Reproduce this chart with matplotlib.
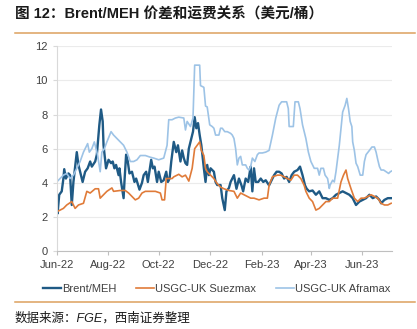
import numpy as np
import matplotlib
matplotlib.use("Agg")
import matplotlib.pyplot as plt
import matplotlib.dates as mdates
from matplotlib.lines import Line2D

plt.rcParams["font.family"] = ["Liberation Sans", "Noto Sans CJK SC", "DejaVu Sans"]

START = np.datetime64("2022-06-01")

# days since 2022-06-01 and value (USD/bbl)
brent_day = [0, 1, 3, 6, 8, 9, 11, 14, 16, 18, 20, 24, 26, 28, 31, 34, 37, 40, 42, 46,
             48, 51, 53, 55, 56, 59, 62, 65, 67, 69, 71, 74, 75, 77, 80, 81, 83, 85, 87, 90,
             93, 95, 99, 102, 104, 107, 109, 113, 115, 117, 120, 122, 125, 128, 131, 133, 135, 137, 140, 143,
             145, 148, 150, 152, 154, 156, 158, 161, 163, 165, 167, 169, 171, 173, 176, 178, 180, 182, 184, 188,
             190, 192, 196, 198, 201, 203, 206, 208, 212, 215, 218, 221, 223, 226, 229, 232, 234, 236, 238, 241,
             244, 247, 250, 254, 256, 260, 263, 266, 269, 272, 275, 278, 281, 284, 288, 291, 294, 297, 299, 302,
             306, 310, 314, 318, 322, 326, 330, 334, 338, 342, 346, 350, 354, 358, 362, 366, 370, 374, 378, 382,
             386, 388, 392, 396, 400]
brent_val = [2.9, 2.2, 3.3, 3.5, 4.25, 4.8, 4.25, 4.55, 4.45, 2.7, 4.05, 5.8, 5.05, 4.65, 4.05, 4.65, 4.85, 5.25, 4.95, 5.25,
             5.65, 7.4, 8.3, 7.6, 6.2, 4.85, 5.35, 5.15, 5.25, 4.85, 5.05, 4.45, 4.85, 4.05, 3.1, 4.05, 5.65, 5.25, 4.55, 4.65,
             4.05, 4.25, 3.6, 4.0, 4.45, 4.65, 4.05, 5.35, 4.85, 4.95, 4.05, 4.65, 4.05, 4.15, 4.65, 4.05, 4.25, 5.25, 6.4, 5.8,
             6.2, 5.25, 5.9, 5.45, 5.15, 5.05, 6.0, 6.6, 7.0, 7.85, 7.2, 7.5, 6.8, 6.2, 4.85, 4.05, 5.05, 4.45, 4.85, 4.65,
             4.05, 3.87, 3.87, 3.1, 2.4, 3.5, 3.7, 4.05, 4.45, 3.65, 4.25, 3.85, 3.5, 4.25, 4.05, 4.95, 3.5, 4.85, 4.05, 4.05,
             4.25, 4.05, 4.15, 3.85, 4.05, 4.45, 4.65, 4.65, 4.55, 4.25, 4.35, 4.05, 4.45, 4.65, 4.75, 4.95, 4.45, 3.85, 3.65, 3.5,
             3.55, 3.3, 3.5, 3.1, 3.1, 3.0, 3.1, 3.3, 3.4, 3.5, 3.4, 3.3, 3.1, 2.7, 2.9, 3.0, 3.1, 3.3, 3.1, 3.2,
             3.0, 2.8, 3.0, 3.1, 3.1]

suez_day = [0, 8, 12, 18, 22, 26, 32, 36, 40, 46, 50, 52, 56, 60, 66, 68, 76, 82, 86, 90,
            94, 98, 102, 106, 112, 118, 124, 126, 129, 131, 134, 138, 140, 146, 150, 154, 158, 162, 165, 168,
            171, 173, 176, 178, 180, 184, 188, 192, 196, 200, 206, 212, 216, 220, 224, 228, 232, 236, 242, 248,
            252, 254, 258, 264, 268, 272, 276, 280, 284, 288, 292, 296, 298, 302, 306, 310, 314, 318, 322, 326,
            330, 336, 340, 343, 346, 348, 352, 356, 360, 364, 368, 372, 376, 380, 384, 388, 392, 396, 400]
suez_val = [2.3, 2.5, 2.7, 2.9, 2.5, 2.7, 2.8, 3.5, 3.4, 3.65, 3.65, 3.1, 3.3, 3.5, 3.7, 3.5, 3.55, 3.55, 3.4, 3.2,
            3.0, 3.1, 3.4, 3.5, 3.5, 3.5, 3.4, 3.0, 3.0, 4.25, 4.25, 4.25, 4.35, 4.5, 4.35, 4.45, 4.1, 4.85, 6.0, 6.2,
            6.4, 5.9, 5.6, 4.85, 4.65, 4.45, 4.25, 3.95, 3.75, 3.65, 3.55, 3.5, 3.1, 3.4, 3.3, 3.2, 3.1, 3.1, 3.0, 3.1,
            3.1, 3.85, 4.35, 4.45, 4.45, 4.35, 4.25, 4.15, 4.45, 4.45, 4.25, 3.85, 3.5, 3.1, 2.9, 2.4, 2.5, 2.7, 2.9, 2.9,
            3.1, 3.1, 4.05, 4.45, 4.75, 4.25, 3.65, 3.1, 2.9, 3.1, 3.1, 3.2, 3.3, 3.2, 3.1, 2.8, 2.7, 2.7, 2.8]

afra_day = [0, 4, 8, 12, 16, 20, 24, 28, 32, 37, 39, 42, 45, 47, 49, 52, 54, 57, 60, 65,
            68, 72, 76, 80, 84, 88, 92, 96, 100, 106, 112, 116, 122, 128, 132, 134, 138, 142, 146, 152,
            154, 156, 160, 163, 165, 171, 172, 176, 178, 180, 183, 186, 188, 190, 194, 196, 198, 201, 204, 208,
            210, 212, 214, 216, 218, 220, 222, 226, 228, 230, 232, 234, 237, 240, 242, 246, 250, 254, 258, 262,
            266, 269, 275, 277, 278, 283, 285, 289, 291, 294, 298, 301, 304, 308, 312, 314, 316, 319, 321, 324,
            326, 327, 330, 332, 334, 338, 340, 342, 345, 347, 349, 351, 353, 354, 356, 358, 360, 363, 366, 368,
            370, 374, 377, 380, 382, 384, 386, 388, 391, 394, 397, 399, 401]
afra_val = [4.05, 4.25, 4.45, 4.55, 4.25, 4.45, 4.85, 5.25, 5.8, 6.3, 5.8, 6.0, 6.4, 6.0, 5.6, 4.65, 5.8, 6.0, 6.4, 7.0,
            6.8, 6.6, 6.4, 6.2, 5.8, 5.25, 5.25, 5.35, 5.6, 5.6, 5.5, 5.45, 5.35, 5.45, 6.2, 7.7, 7.7, 7.8, 7.85, 7.8,
            7.1, 7.6, 7.3, 7.8, 10.9, 10.9, 9.7, 9.6, 8.5, 8.45, 7.4, 7.3, 7.2, 6.8, 6.8, 7.2, 7.2, 7.0, 7.0, 6.9,
            6.8, 6.6, 6.0, 5.05, 5.45, 5.55, 5.05, 5.05, 4.85, 4.75, 4.95, 5.45, 5.25, 5.65, 5.75, 5.75, 5.8, 5.9, 6.8, 7.8,
            8.55, 8.75, 8.75, 8.35, 7.3, 7.3, 8.75, 8.75, 8.35, 7.4, 6.6, 5.8, 5.25, 4.85, 4.85, 4.45, 4.85, 4.85, 4.45, 4.25,
            3.67, 3.87, 4.15, 4.05, 4.65, 6.2, 7.2, 8.15, 8.55, 8.95, 8.35, 7.6, 7.3, 6.4, 5.9, 5.15, 4.95, 4.45, 4.45, 5.25,
            5.65, 5.9, 6.1, 6.1, 5.8, 5.35, 4.95, 4.75, 4.75, 4.65, 4.55, 4.65, 4.7]

series = [
    ("Brent/MEH", brent_day, brent_val, "#1F5A85", 1.7),
    ("USGC-UK Suezmax", suez_day, suez_val, "#E07B39", 1.2),
    ("USGC-UK Aframax", afra_day, afra_val, "#9DC3E6", 1.2),
]


def to_dates(days):
    return START + np.array(days, dtype="timedelta64[D]")


fig = plt.figure(figsize=(4.17, 3.29), dpi=100)
ax = fig.add_axes([0.136, 0.237, 0.804, 0.622])

handles = []
for label, days, vals, color, lw in series:
    ax.plot(to_dates(days), vals, color=color, lw=lw, solid_joinstyle="round")
    handles.append(Line2D([], [], color=color, lw=lw, label=label))

ax.set_ylim(0, 12)
ax.set_yticks(range(0, 13, 2))
ax.set_xlim(START, START + np.timedelta64(401, "D"))
ax.xaxis.set_major_locator(mdates.MonthLocator(bymonth=[2, 4, 6, 8, 10, 12]))
ax.xaxis.set_major_formatter(mdates.DateFormatter("%b-%y"))

ax.grid(axis="y", color="#EBEBEB", lw=0.8)
ax.set_axisbelow(True)
for side in ("top", "right"):
    ax.spines[side].set_visible(False)
ax.spines["left"].set_color("#D9D9D9")
ax.spines["bottom"].set_color("#BFBFBF")
ax.tick_params(axis="both", labelsize=8, colors="#404040", length=3, width=0.8)
ax.tick_params(axis="y", color="#D9D9D9")
ax.tick_params(axis="x", color="#BFBFBF")

fig.legend(handles=handles, loc="center", bbox_to_anchor=(0.52, 0.122), ncol=3,
           frameon=False, fontsize=8, handlelength=1.6, handletextpad=0.1,
           columnspacing=1.8, labelcolor="#404040")

# header and footer rules
fig.add_artist(Line2D([0.036, 0.995], [0.900, 0.900], color="#DDA15E", lw=1.1))
fig.add_artist(Line2D([0.036, 0.995], [0.082, 0.082], color="#DDA15E", lw=1.1))

fig.text(0.036, 0.957, "图 12：Brent/MEH 价差和运费关系（美元/桶）", fontsize=10.5,
         fontweight="bold", color="#1A1A1A", va="center", ha="left")
fig.text(0.036, 0.033, "数据来源：FGE，西南证券整理", fontsize=9, style="italic",
         color="#1A1A1A", va="center", ha="left")

fig.savefig("out.png", dpi=100)
